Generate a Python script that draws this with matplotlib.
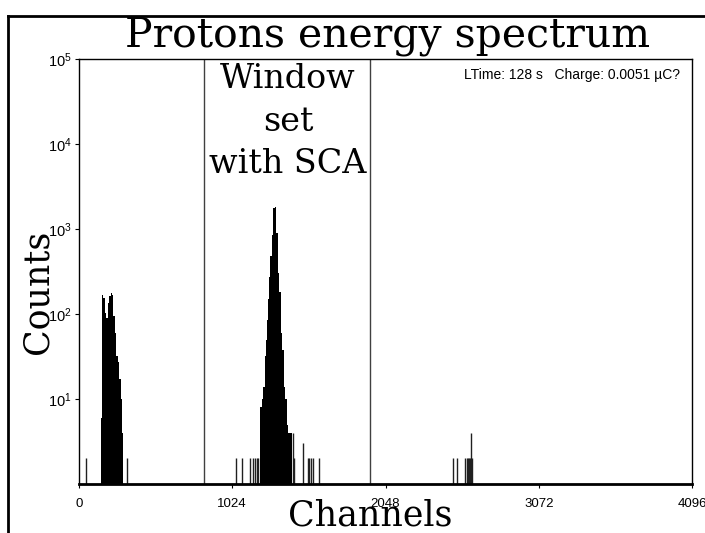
import numpy as np
import matplotlib.pyplot as plt
from matplotlib.lines import Line2D

plt.rcParams['font.family'] = ['Liberation Sans', 'DejaVu Sans']
plt.rcParams['mathtext.default'] = 'regular'

# spectrum (channel, counts)
peak1_ch = [147, 154, 160, 167, 174, 180, 187, 194, 200, 207, 214, 221, 227, 234,
            241, 247, 254, 261, 267, 274, 281, 287, 294]
peak1_counts = [6, 148, 169, 155, 123, 104, 90, 110, 136, 161, 177, 169, 136, 94,
                60, 46, 32, 27, 20, 17, 10, 7, 4]

peak2_ch = [1209, 1216, 1223, 1229, 1236, 1243, 1249, 1256, 1263, 1269, 1276, 1283,
            1290, 1296, 1303, 1310, 1316, 1323, 1330, 1336, 1343, 1350, 1356, 1363,
            1370, 1376, 1383, 1390, 1396, 1403, 1410, 1417, 1423]
peak2_counts = [4, 8, 8, 10, 14, 20, 32, 50, 85, 150, 276, 480, 850, 1400, 1750,
                1820, 1500, 900, 560, 305, 180, 105, 60, 38, 22, 14, 10, 7, 5, 4, 4, 4, 2]

single_ch = [47, 324, 1047, 1087, 1143, 1165, 1178, 1187, 1198, 1430, 1437, 1495,
             1527, 1537, 1547, 1562, 1606, 2497, 2524, 2579, 2591, 2601, 2608, 2613,
             2619, 2624]
single_counts = [2, 2, 2, 2, 2, 2, 2, 2, 2, 4, 2, 3, 2, 2, 2, 2, 2, 2, 2, 2, 2, 2,
                 2, 2, 4, 2]

window = [837, 1944]
xticks = [0, 1024, 2048, 3072, 4096]

fig = plt.figure(figsize=(7.05, 5.33), dpi=100)
ax = fig.add_axes([79/705, 49/533, 613/705, 425/533])

ax.fill_between(peak1_ch, 1, peak1_counts, step='mid', color='black', lw=0)
ax.fill_between(peak2_ch, 1, peak2_counts, step='mid', color='black', lw=0)
ax.vlines(single_ch, 1, single_counts, color='#202020', lw=1)
for w in window:
    ax.axvline(w, color='#404040', lw=1)

ax.set_yscale('log')
ax.set_ylim(1, 1e5)
ax.set_xlim(0, 4096)
ax.set_xticks(xticks)
ax.set_yticks([1e1, 1e2, 1e3, 1e4, 1e5])
ax.minorticks_off()
ax.tick_params(axis='x', length=3, pad=7, labelsize=9.5)
ax.tick_params(axis='y', length=3, pad=2, labelsize=10.5)
for s in ['left', 'top', 'right']:
    ax.spines[s].set_linewidth(1)
ax.spines['bottom'].set_linewidth(2)

serif = 'DejaVu Serif'
fig.text(388/705, 1-47/533, 'Protons energy spectrum', family=serif, fontsize=29.5,
         ha='center', va='baseline')
for txt, yb in [('Window', 88), ('set', 131), ('with SCA', 173)]:
    fig.text(288/705, 1-yb/533, txt, family=serif, fontsize=24, ha='center', va='baseline')
fig.text(38/705, 1-292/533, 'Counts', family=serif, fontsize=25, rotation=90,
         ha='center', va='center')
fig.text(370/705, 1-525/533, 'Channels', family=serif, fontsize=25, ha='center',
         va='baseline')
fig.text(680/705, 1-75/533, 'LTime: 128 s   Charge: 0.0051 µC?', fontsize=10,
         ha='right', va='center')

# outer frame
fig.add_artist(Line2D([8/705, 1], [1-16/533, 1-16/533], color='black', lw=2))
fig.add_artist(Line2D([8/705, 8/705], [0, 1-16/533], color='black', lw=2))

fig.savefig('out.png', dpi=100)
